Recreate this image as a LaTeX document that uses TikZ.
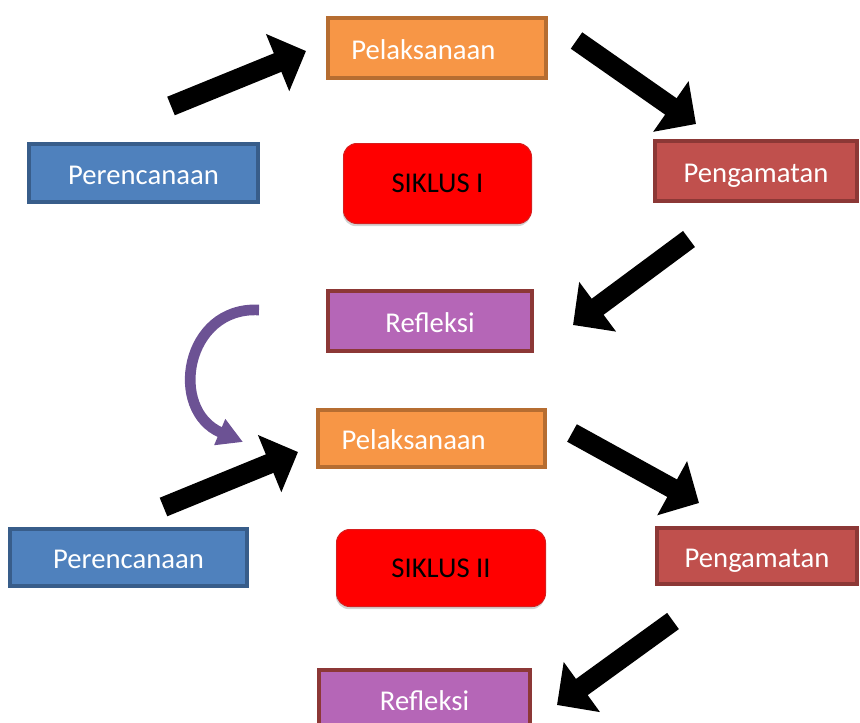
\documentclass[tikz,border=0pt]{standalone}
\usepackage{fontspec}
\setmainfont{Carlito}
\usetikzlibrary{arrows.meta,shadows}

\definecolor{orangefill}{RGB}{247,150,70}
\definecolor{orangeline}{RGB}{182,109,49}
\definecolor{bluefill}{RGB}{79,129,189}
\definecolor{blueline}{RGB}{56,93,138}
\definecolor{brownfill}{RGB}{192,80,77}
\definecolor{brownline}{RGB}{140,56,54}
\definecolor{purplefill}{RGB}{181,102,183}
\definecolor{curvecol}{RGB}{108,82,148}

\tikzset{every picture/.style={line width=0.75pt}}
\tikzset{
  stagebox/.style={draw, line width=3pt, rectangle, inner ysep=0pt, text=white,
    text height=17pt, text depth=0pt, font=\fontsize{21.5}{26}\selectfont},
  planbox/.style={stagebox, fill=bluefill, draw=blueline},
  doingbox/.style={stagebox, fill=orangefill, draw=orangeline, align=left, inner xsep=17.5pt},
  watchbox/.style={stagebox, fill=brownfill, draw=brownline},
  thinkbox/.style={stagebox, fill=purplefill, draw=brownline},
  cyclebox/.style={draw={rgb,255:red,215;green,30;blue,30}, line width=0.75pt, fill=red,
    rounded corners=10pt, text=black, font=\fontsize{21.5}{26}\selectfont,
    drop shadow={shadow xshift=-0.5pt, shadow yshift=-2pt, opacity=0.35}},
  bigarrow/.style={line width=15pt, black, -{Triangle[width=45pt, length=23pt]}},
  curvearrow/.style={line width=8pt, curvecol, -{Triangle[width=20pt, length=19pt]}}
}

\begin{document}
\begin{tikzpicture}[x=0.75pt,y=0.75pt,yscale=-1,xscale=1]
	\useasboundingbox (0,0) rectangle (860,722);
	\clip (0,0) rectangle (860,722);
	
	%Siklus I
	\node [doingbox, minimum width=163.5pt, minimum height=45pt, text width=128.5pt] (pel1) at (437,48) {Pelaksanaan};
	\node [planbox, minimum width=171.75pt, minimum height=43.5pt] (per1) at (143.5,173) {Perencanaan};
	\node [cyclebox, minimum width=141pt, minimum height=60pt] (sik1) at (437.5,183.5) {SIKLUS I};
	\node [watchbox, minimum width=151.5pt, minimum height=45pt] (pen1) at (756,171) {Pengamatan};
	\node [thinkbox, minimum width=153pt, minimum height=45pt] (ref1) at (430,321) {Refleksi};
	
	%Siklus II
	\node [doingbox, minimum width=168.75pt, minimum height=42.75pt, text width=134.75pt] (pel2) at (431.5,438.5) {Pelaksanaan};
	\node [planbox, minimum width=177.75pt, minimum height=42.75pt] (per2) at (128.5,557.5) {Perencanaan};
	\node [cyclebox, minimum width=156.75pt, minimum height=57.75pt] (sik2) at (441,568) {SIKLUS II};
	\node [watchbox, minimum width=150pt, minimum height=42pt] (pen2) at (757,556) {Pengamatan};
	\node [thinkbox, minimum width=158.25pt, minimum height=43.5pt] (ref2) at (424.5,699) {Refleksi};
	
	%arrow ends
	\coordinate (a1s) at (171,106);   \coordinate (a1e) at (306,51);
	\coordinate (a2s) at (576.5,40.5); \coordinate (a2e) at (696,124);
	\coordinate (a3s) at (689,239);   \coordinate (a3e) at (573,325);
	\coordinate (a4s) at (163.5,507); \coordinate (a4e) at (298,452);
	\coordinate (a5s) at (572,433);   \coordinate (a5e) at (699,503);
	\coordinate (a6s) at (673,621);   \coordinate (a6e) at (557,705);
	\coordinate (cs) at (259,310);    \coordinate (ce) at (243,442);
	
	\draw [bigarrow] (a1s) -- (a1e);
	\draw [bigarrow] (a2s) -- (a2e);
	\draw [bigarrow] (a3s) -- (a3e);
	\draw [bigarrow] (a4s) -- (a4e);
	\draw [bigarrow] (a5s) -- (a5e);
	\draw [bigarrow] (a6s) -- (a6e);
	
	%Curved arrow
	\draw [curvearrow] (cs) .. controls (185,306) and (168,410) .. (ce);
	
\end{tikzpicture}
\end{document}
